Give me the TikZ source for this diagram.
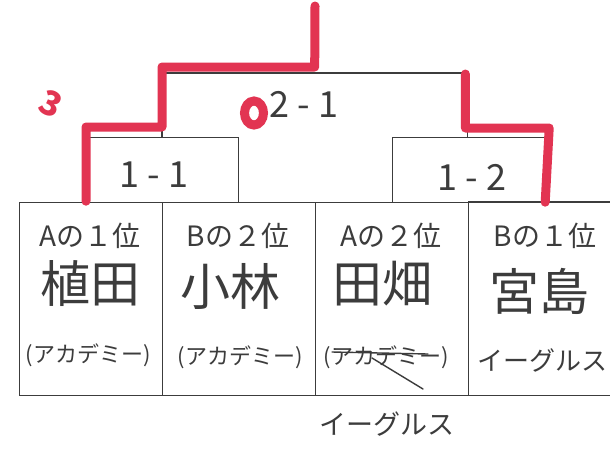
\documentclass[tikz,border=0pt]{standalone}
\usepackage{fontspec}
\setmainfont{Noto Sans CJK JP}
\usetikzlibrary{calc}
\definecolor{ink}{RGB}{60,60,60}
\definecolor{redpen}{RGB}{226,52,82}
\tikzset{
  cell/.style={draw=ink, line width=1.2pt, inner sep=0pt, anchor=north west},
  area/.style={inner sep=0pt, anchor=north west},
  inkline/.style={draw=ink, line width=1.2pt},
  win/.style={draw=redpen, line width=9pt, line cap=round, line join=round},
  rank/.style={font=\fontsize{28}{28}\selectfont, text=ink},
  pname/.style={font=\fontsize{50}{50}\selectfont, text=ink},
  team/.style={font=\fontsize{22}{22}\selectfont, text=ink},
  score/.style={font=\fontsize{36}{36}\selectfont, text=ink},
  pen/.style={draw=ink, line width=1.4pt, line cap=round}
}
\begin{document}
\begin{tikzpicture}[x=1pt,y=-1pt]
\useasboundingbox[fill=white] (0,0) rectangle (610,451);
% seats
\node[cell, minimum width=143pt, minimum height=193pt] (s1) at (19,202) {};
\node[cell, minimum width=153pt, minimum height=193pt] (s2) at (162,202) {};
\node[cell, minimum width=153pt, minimum height=193pt] (s3) at (315,202) {};
\node[area, minimum width=160pt, minimum height=193pt] (s4) at (468,202) {};
\draw[inkline] (s4.north west) -- (s4.north east) (s4.south west) -- (s4.south east);
% matches
\node[cell, minimum width=153pt, minimum height=65pt] (m1) at (85,137) {};
\node[cell, minimum width=152pt, minimum height=65pt] (m2) at (392,137) {};
\node[area, minimum width=305pt, minimum height=64pt] (f) at (162,73) {};
\draw[inkline] (f.south west) -- (f.north west) -- (f.north east) -- (f.south east);
% winner paths
\coordinate (champ) at (315,6);
\draw[win] (champ) -- ([yshift=6pt]f.north) -| ([yshift=10pt]f.west |- m1.north) -| ([xshift=1pt,yshift=2pt]m1.south west);
\draw[win] ([xshift=-2pt,yshift=-1pt]f.north east) |- ([xshift=4pt,yshift=9pt]m2.north east) -- ([xshift=0pt,yshift=1pt]m2.south east);
% marks
\node[text=redpen, font=\bfseries\fontsize{34}{34}\selectfont, rotate=-25] (mark) at (51,104) {3};
\draw[redpen, line width=9pt] (254,113) ellipse [x radius=9.5, y radius=12];
% scores
\node[score] (sf) at (304,104) {2 - 1};
\node[score] (sm1) at (154,175) {1 - 1};
\node[score] (sm2) at (472,177) {1 - 2};
% ranks
\node[rank] (r1) at (90,236) {Aの１位};
\node[rank] (r2) at (238,236) {Bの２位};
\node[rank] (r3) at (391,236) {Aの２位};
\node[rank] (r4) at (545,236) {Bの１位};
% names
\node[pname] (n1) at (90,284) {植田};
\node[pname] (n2) at (230,286) {小林};
\node[pname] (n3) at (382,284) {田畑};
\node[pname] (n4) at (539,291) {宮島};
% teams
\node[team] (t1) at (88,355) {(アカデミー)};
\node[team] (t2) at (240,357) {(アカデミー)};
\node[team] (t3) at (386,357) {(アカデミー)};
\node[team, font=\fontsize{26}{26}\selectfont, anchor=west] (t4) at (474,360) {イーグルス};
\draw[pen] (332,352) -- (428,354);
\draw[pen] (372,358) -- (423,389);
\node[font=\fontsize{27}{27}\selectfont, text=ink] (t3b) at (387,424) {イーグルス};
\end{tikzpicture}
\end{document}
